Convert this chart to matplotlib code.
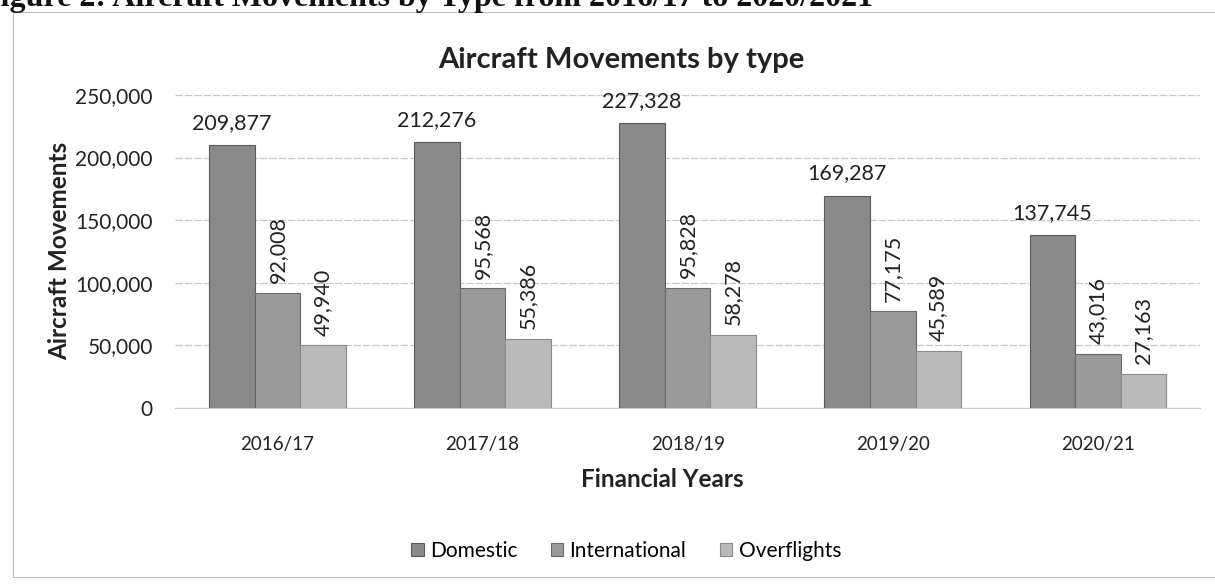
import matplotlib.pyplot as plt
import matplotlib.patches as patches
import numpy as np

plt.rcParams['font.family'] = ['Lato', 'DejaVu Sans']

# Data
years = ['2016/17', '2017/18', '2018/19', '2019/20', '2020/21']
domestic = [209877, 212276, 227328, 169287, 137745]
international = [92008, 95568, 95828, 77175, 43016]
overflights = [49940, 55386, 58278, 45589, 27163]

series_names = ['Domestic', 'International', 'Overflights']
colors = ['#8a8a8a', '#9a9a9a', '#bababa']
edges = ['#5a5a5a', '#6a6a6a', '#8a8a8a']

fig = plt.figure(figsize=(12.15, 5.86), dpi=100)
ax = fig.add_axes([0.144, 0.304, 0.844, 0.534])

x = np.arange(len(years))
w = 0.222
all_series = [domestic, international, overflights]
for i, vals in enumerate(all_series):
    bars = ax.bar(x + (i - 1) * w, vals, width=w, color=colors[i],
                  edgecolor=edges[i], linewidth=0.8, label=series_names[i], zorder=3)
    for b, v in zip(bars, vals):
        cx = b.get_x() + b.get_width() / 2
        if i == 0:
            ax.annotate(f'{v:,}', (cx, v), xytext=(0, 9), textcoords='offset points',
                        ha='center', va='bottom', fontsize=15.5, color='#222222')
        else:
            ax.annotate(f'{v:,}', (cx, v), xytext=(0, 7), textcoords='offset points',
                        ha='center', va='bottom', rotation=90, fontsize=15.5, color='#222222')

ax.set_xlim(-0.5, len(years) - 0.5)
ax.set_ylim(0, 250000)
ax.set_yticks(np.arange(0, 250001, 50000))
ax.set_yticklabels([f'{t:,}' for t in range(0, 250001, 50000)], fontsize=15, color='#222222')
ax.set_xticks(x)
ax.set_xticklabels(years, fontsize=13.5, color='#222222')
ax.tick_params(axis='y', length=0, pad=16)
ax.tick_params(axis='x', length=0, pad=20)
ax.grid(axis='y', color='#c8c8c8', linewidth=0.9, linestyle=(0, (6, 1.5)), zorder=0)
for s in ['top', 'right', 'left']:
    ax.spines[s].set_visible(False)
ax.spines['bottom'].set_color('#c8c8c8')

# title and labels sit a little left of the plot centre, as in the original
fig.text(0.511, 1 - 60 / 586, 'Aircraft Movements by type', fontsize=21, fontweight='bold',
         ha='center', va='center', color='#222222')
ax.set_xlabel('Financial Years', fontsize=17.5, fontweight='bold', color='#222222')
ax.xaxis.set_label_coords((662 - 175) / 1025, (408 - 480) / 313)
ax.xaxis.label.set_va('center')
ax.set_ylabel('Aircraft Movements', fontsize=17.5, fontweight='bold', labelpad=3, color='#222222')

ax.legend(loc='center', bbox_to_anchor=((626 - 175) / 1025, (408 - 551) / 313), ncol=3,
          frameon=False, fontsize=15, handlelength=0.6, handleheight=0.6,
          handletextpad=0.3, columnspacing=1.6)

# Chart border
fig.patches.append(patches.Rectangle((0.0107, 0.0154), 1.0, 1 - 12 / 586 - 0.0154,
                                     transform=fig.transFigure, fill=False,
                                     edgecolor='#bdbdbd', linewidth=0.8))

# Cut-off caption from the scanned page
fig.text(-0.016, 1 - 6 / 586, 'Figure 2: Aircraft Movements by Type from 2016/17 to 2020/2021',
         fontsize=23, fontweight='bold', family='Liberation Serif', va='baseline', color='#111111')

fig.savefig('out.png', dpi=100)
